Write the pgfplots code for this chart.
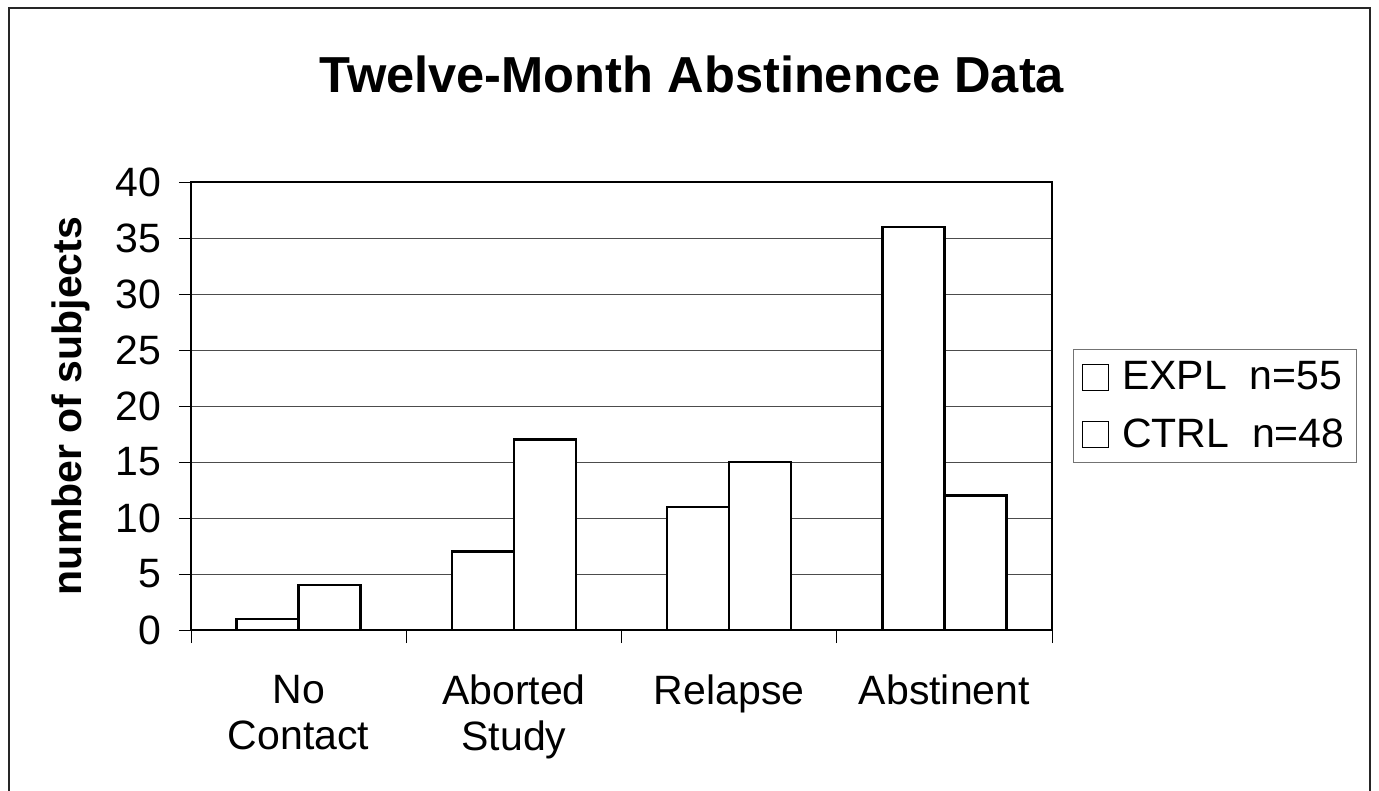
\documentclass[border=0pt]{standalone}
\usepackage{fontspec}
\setmainfont{Liberation Sans}
\usepackage{pgfplots}
\pgfplotsset{compat=1.18}
\begin{document}
\begin{tikzpicture}
% picture is 1379 x 791 px at 0.5pt per px
\useasboundingbox (0pt,0pt) rectangle (689.5pt,-395.5pt);
\draw[line width=1pt, black!85] (4.5pt,-397pt) -- (4.5pt,-4pt) -- (685pt,-4pt) -- (685pt,-397pt);
\node[font=\bfseries\fontsize{25.3}{30}\selectfont, anchor=base] at (346pt,-46.5pt) {Twelve-Month Abstinence Data};
\begin{axis}[
  at={(95.5pt,-315pt)}, anchor=south west,
  scale only axis, width=430.5pt, height=224pt,
  ybar=0pt, bar width=31pt,
  xmin=-0.5, xmax=3.5, ymin=0, ymax=40,
  axis line style={line width=1pt},
  tick pos=left, tick align=outside,
  xtick={0,1,2,3},
  xticklabels={{No\\Contact},{Aborted\\Study},{Relapse},{Abstinent}},
  major x tick style={draw=none},
  minor xtick={-0.5,0.5,1.5,2.5,3.5},
  minor tick length=6.5pt,
  minor x tick style={line width=0.5pt, black},
  ytick={0,5,...,40},
  major tick length=6pt,
  y tick style={line width=0.5pt, black},
  ymajorgrids, grid style={line width=0.5pt, black!70},
  /pgf/number format/assume math mode=true,
  ticklabel style={font=\fontsize{20.5}{23}\selectfont},
  xticklabel style={align=center, anchor=north, yshift=-13pt},
  yticklabel style={xshift=-5.5pt},
  ylabel={number of subjects},
  ylabel style={font=\bfseries\fontsize{20.5}{24}\selectfont, at={(axis description cs:-0.139,0.5)}, anchor=center},
  legend style={at={(1.0244,0.6272)}, anchor=north west, draw=black!55, line width=0.5pt,
    font=\fontsize{20.5}{24}\selectfont, inner sep=4pt, row sep=9pt},
  legend cell align=left,
  legend image code/.code={
    \draw[black, fill=white, line width=0.6pt] (0pt,-6.5pt) rectangle (13pt,6.5pt);
    \path[draw=none, fill=none] (0pt,0pt) -- (18pt,0pt);},
]
\addplot[draw=black, fill=white, line width=1.2pt] coordinates {(0,1) (1,7) (2,11) (3,36)};
\addplot[draw=black, fill=white, line width=1.2pt] coordinates {(0,4) (1,17) (2,15) (3,12)};
\legend{EXPL\hspace{11.5pt}n=55, CTRL\hspace{11.5pt}n=48}
\end{axis}
\end{tikzpicture}
\end{document}
